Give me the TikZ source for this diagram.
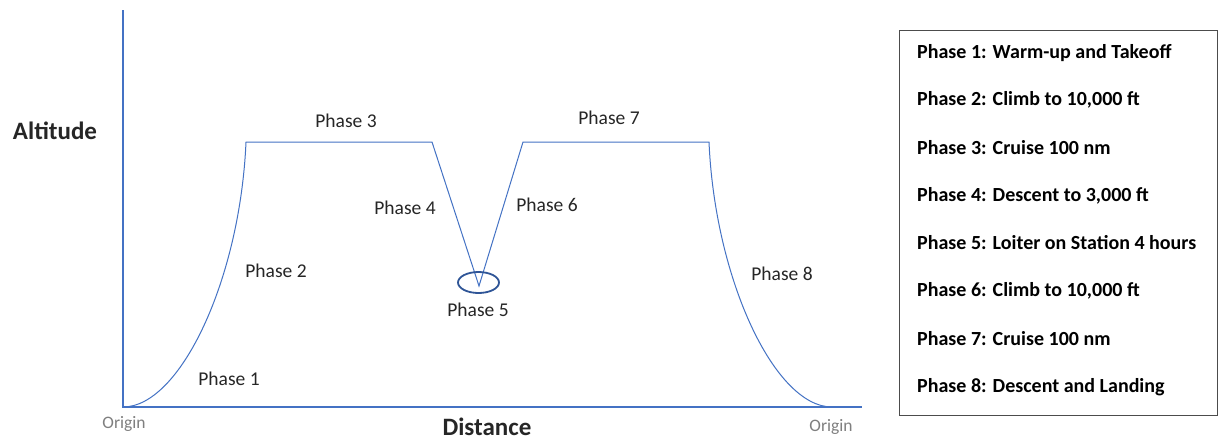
\documentclass[tikz,border=0pt]{standalone}
\usepackage{fontspec}
\setmainfont{Carlito}
\definecolor{lineblue}{HTML}{4472C4}
\definecolor{ringblue}{HTML}{2F5597}
\definecolor{txt}{HTML}{262626}
\definecolor{origgray}{HTML}{7F7F7F}
\begin{document}
\begin{tikzpicture}[x=1pt,y=-1pt,
  curve/.style={draw=lineblue,line width=1pt},
  axis/.style={draw=lineblue,line width=1.2pt},
  plabel/.style={font=\fontsize{19.5}{22}\selectfont,text=txt,inner sep=0pt},
  axlabel/.style={font=\fontsize{25}{28}\selectfont\bfseries,text=txt,inner sep=0pt,anchor=base},
  origlabel/.style={font=\fontsize{17.5}{20}\selectfont,text=origgray,inner sep=0pt},
  legtext/.style={font=\fontsize{20}{23}\selectfont\bfseries,text=black,inner sep=0pt,anchor=west}]
\path[fill=white,use as bounding box] (0,0) rectangle (1223,440);
% axes
\coordinate (O) at (123,407);
\coordinate (ytop) at (123,10);
\coordinate (xend) at (862,407);
\draw[axis] (ytop) -- (O) -- (xend);
% profile
\coordinate (p2top) at (246,142);
\coordinate (p3end) at (432,142);
\coordinate (p5) at (479,286);
\coordinate (p6top) at (523,142);
\coordinate (p7end) at (709,142);
\coordinate (p8end) at (832,407);
\draw[curve] (O) .. controls (180,407) and (240,280) .. (p2top) -- (p3end) -- (p5) -- (p6top) -- (p7end)
  .. controls (715,280) and (775,407) .. (p8end);
% loiter ring
\draw[draw=ringblue,line width=1.8pt] (478.5,282.5) ellipse [x radius=20.5, y radius=10.5];
% phase labels
\node[plabel] (l1) at (229,379) {Phase 1};
\node[plabel] (l2) at (276,271) {Phase 2};
\node[plabel] (l3) at (346,121) {Phase 3};
\node[plabel] (l4) at (405,208) {Phase 4};
\node[plabel] (l5) at (478,310) {Phase 5};
\node[plabel] (l6) at (547,205) {Phase 6};
\node[plabel] (l7) at (609,118) {Phase 7};
\node[plabel] (l8) at (782,274) {Phase 8};
% axis labels
\node[axlabel] (alt) at (55,139) {Altitude};
\node[axlabel] (dist) at (487,435.5) {Distance};
\node[origlabel] (o1) at (124,424) {Origin};
\node[origlabel] (o2) at (831,427) {Origin};
% legend
\node[draw=black!70,line width=1pt,minimum width=318pt,minimum height=385pt,anchor=north west] (leg) at (899,30) {};
\node[legtext] (t1) at (917,53) {Phase 1: Warm-up and Takeoff};
\node[legtext] (t2) at (917,100) {Phase 2: Climb to 10,000 ft};
\node[legtext] (t3) at (917,148) {Phase 3: Cruise 100 nm};
\node[legtext] (t4) at (917,196) {Phase 4: Descent to 3,000 ft};
\node[legtext] (t5) at (917,243) {Phase 5: Loiter on Station 4 hours};
\node[legtext] (t6) at (917,291) {Phase 6: Climb to 10,000 ft};
\node[legtext] (t7) at (917,339) {Phase 7: Cruise 100 nm};
\node[legtext] (t8) at (917,387) {Phase 8: Descent and Landing};
\end{tikzpicture}
\end{document}
